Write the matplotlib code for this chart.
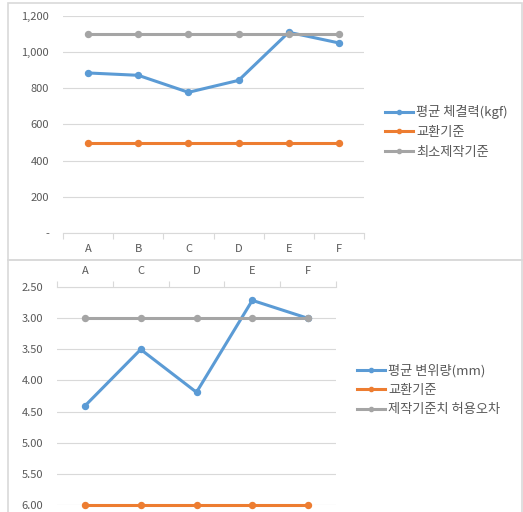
import matplotlib
matplotlib.use("Agg")
import matplotlib.pyplot as plt
from matplotlib.patches import Rectangle
from matplotlib.ticker import FuncFormatter

plt.rcParams['font.family'] = ['Noto Sans CJK KR', 'DejaVu Sans']

# 위 차트: 체결력
cats_top = ["A", "B", "C", "D", "E", "F"]
force_avg = [885, 872, 778, 844, 1110, 1051]
force_replace = [500, 500, 500, 500, 500, 500]
force_min = [1100, 1100, 1100, 1100, 1100, 1100]
top_labels = ["평균 체결력(kgf)", "교환기준", "최소제작기준"]

# 아래 차트: 변위량
cats_bot = ["A", "C", "D", "E", "F"]
disp_avg = [4.41, 3.50, 4.19, 2.71, 3.00]
disp_replace = [6.00, 6.00, 6.00, 6.00, 6.00]
disp_tol = [3.00, 3.00, 3.00, 3.00, 3.00]
bot_labels = ["평균 변위량(mm)", "교환기준", "제작기준치 허용오차"]

BLUE = "#5B9BD5"
ORANGE = "#ED7D31"
GRAY = "#A5A5A5"
TXT = "#595959"
GRID = "#D9D9D9"

W, H = 523, 512
fig = plt.figure(figsize=(W / 100, H / 100), dpi=100)

# 차트 테두리
fig.patches.append(Rectangle((8 / W, 1 - 260 / H), 514 / W, 257 / H,
                             transform=fig.transFigure, fill=False,
                             ec=GRID, lw=1.2))
fig.patches.append(Rectangle((8 / W, -0.1), 514 / W, 0.1 + 1 - 260 / H,
                             transform=fig.transFigure, fill=False,
                             ec=GRID, lw=1.2))


def draw_lines(ax, x, series, labels):
    for vals, col, lab in zip(series, [BLUE, ORANGE, GRAY], labels):
        ax.plot(x, vals, color=col, lw=2.2, marker="o", ms=4.3,
                label=lab, clip_on=False, zorder=3)


def style_axes(ax, n):
    for s in ax.spines.values():
        s.set_visible(False)
    ax.set_xlim(-0.5, n - 0.5)
    ax.set_xticks(range(n))
    ax.set_xticks([i - 0.5 for i in range(n + 1)], minor=True)
    ax.tick_params(axis="x", which="major", length=0, pad=8,
                   labelsize=8, labelcolor=TXT)
    ax.tick_params(axis="x", which="minor", length=4, color=GRID, width=0.8)
    ax.tick_params(axis="y", length=0, pad=10, labelsize=8, labelcolor=TXT)
    ax.grid(axis="y", color=GRID, lw=0.8, zorder=0)
    ax.set_axisbelow(True)


def add_legend(ax, x, y):
    ax.legend(loc="center left", bbox_to_anchor=(x / W, 1 - y / H),
              bbox_transform=fig.transFigure, frameon=False, fontsize=9.5,
              labelcolor=TXT, borderpad=0, borderaxespad=0, handlelength=2.1,
              handletextpad=0.25, labelspacing=0.5, markerscale=0.7)


# ---- 위 차트
ax1 = fig.add_axes([63 / W, 1 - 233 / H, 301 / W, 217 / H])
draw_lines(ax1, cats_top, [force_avg, force_replace, force_min], top_labels)
style_axes(ax1, len(cats_top))
ax1.spines["bottom"].set_visible(True)
ax1.spines["bottom"].set_color(GRID)
ax1.set_ylim(0, 1200)
ax1.set_yticks(range(0, 1201, 200))
ax1.yaxis.set_major_formatter(FuncFormatter(lambda v, p: "-" if v == 0 else f"{int(v):,}"))
add_legend(ax1, 385, 132)

# ---- 아래 차트 (역순 축)
ax2 = fig.add_axes([57 / W, 1 - 504.7 / H, 279 / W, 217.4 / H])
draw_lines(ax2, cats_bot, [disp_avg, disp_replace, disp_tol], bot_labels)
style_axes(ax2, len(cats_bot))
ax2.spines["top"].set_visible(True)
ax2.spines["top"].set_color(GRID)
ax2.xaxis.tick_top()
ax2.tick_params(axis="x", which="both", bottom=False, top=True)
ax2.set_ylim(6.0, 2.5)
ax2.set_yticks([2.5, 3.0, 3.5, 4.0, 4.5, 5.0, 5.5, 6.0])
ax2.yaxis.set_major_formatter(FuncFormatter(lambda v, p: f"{v:.2f}"))
add_legend(ax2, 357, 390)

fig.savefig("out.png", dpi=100)
